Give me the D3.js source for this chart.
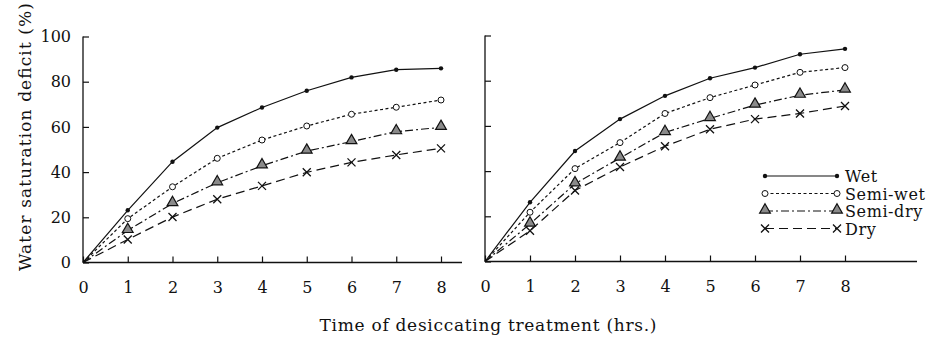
<!DOCTYPE html>
<html>
<head>
<meta charset="utf-8">
<script src="https://cdn.jsdelivr.net/npm/d3@7"></script>
<style>
  body { margin: 0; background: #fff; }
  svg text { font-family: "DejaVu Serif", "Liberation Serif", serif; fill: #111; }
</style>
</head>
<body>
<div id="chart"></div>
<script>
// hours of desiccating treatment
var hours = [0, 1, 2, 3, 4, 5, 6, 7, 8];
var yTicks = [0, 20, 40, 60, 80, 100];
var seriesNames = ["Wet", "Semi-wet", "Semi-dry", "Dry"];

// left panel
var leftWet     = [0, 23.1, 44.6, 59.7, 68.6, 76.0, 81.9, 85.3, 85.9];
var leftSemiWet = [0, 19.4, 33.5, 46.1, 54.2, 60.4, 65.6, 68.7, 71.9];
var leftSemiDry = [0, 14.2, 26.1, 35.3, 42.8, 49.3, 53.5, 57.9, 59.8];
var leftDry     = [0, 10.2, 20.1, 28.0, 33.9, 39.9, 44.3, 47.6, 50.5];

// right panel
var rightWet     = [0, 26.2, 48.9, 63.0, 73.3, 81.1, 85.8, 91.7, 94.1];
var rightSemiWet = [0, 21.8, 41.1, 52.6, 65.5, 72.5, 78.1, 83.7, 85.8];
var rightSemiDry = [0, 16.6, 34.4, 45.8, 57.1, 63.3, 69.2, 73.6, 75.9];
var rightDry     = [0, 13.6, 31.4, 41.8, 51.0, 58.5, 63.0, 65.5, 68.8];

var W = 934, H = 339;
var svg = d3.select("#chart").append("svg")
  .attr("width", W).attr("height", H);

// line style per series
var styles = {
  "Wet":      { dash: null,          marker: "dot" },
  "Semi-wet": { dash: "3,2.5",       marker: "circle" },
  "Semi-dry": { dash: "8,3,2,3",     marker: "triangle" },
  "Dry":      { dash: "9,5",         marker: "cross" }
};

function drawMarker(g, type, x, y) {
  if (type == "dot") {
    g.append("circle").attr("cx", x).attr("cy", y).attr("r", 2.2).attr("fill", "#111");
  } else if (type == "circle") {
    g.append("circle").attr("cx", x).attr("cy", y).attr("r", 3)
      .attr("fill", "#fff").attr("stroke", "#111").attr("stroke-width", 1);
  } else if (type == "triangle") {
    g.append("path")
      .attr("d", d3.symbol().type(d3.symbolTriangle).size(50)())
      .attr("transform", "translate(" + x + "," + (y - 1) + ")")
      .attr("fill", "#8a8a8a").attr("stroke", "#111").attr("stroke-width", 1.2);
  } else {
    g.append("path")
      .attr("d", "M-4,-4L4,4M-4,4L4,-4")
      .attr("transform", "translate(" + x + "," + y + ")")
      .attr("stroke", "#111").attr("stroke-width", 1.3).attr("fill", "none");
  }
}

function drawPanel(cfg) {
  var x = d3.scaleLinear().domain([0, 8]).range([cfg.x0, cfg.x8]);
  var y = d3.scaleLinear().domain([0, 100]).range([cfg.y0, cfg.y100]);
  var g = svg.append("g");

  // axes lines
  g.append("line").attr("x1", x(0)).attr("x2", cfg.xEnd)
    .attr("y1", y(0)).attr("y2", y(0)).attr("stroke", "#111").attr("stroke-width", 1.3);
  g.append("line").attr("x1", x(0)).attr("x2", x(0))
    .attr("y1", y(0)).attr("y2", y(100)).attr("stroke", "#111").attr("stroke-width", 1.3);

  var xAxis = d3.axisBottom(x).tickValues(hours).tickSizeInner(-6).tickSizeOuter(0).tickPadding(19);
  var gx = g.append("g").attr("transform", "translate(0," + y(0) + ")").call(xAxis);
  gx.attr("font-family", null);
  gx.select(".domain").remove();
  gx.selectAll("line").attr("stroke", "#111").attr("stroke-width", 1.2);
  gx.selectAll("text").attr("font-size", 16);

  var yAxis = d3.axisLeft(y).tickValues(yTicks).tickSizeInner(-6).tickSizeOuter(0).tickPadding(12);
  var gy = g.append("g").attr("transform", "translate(" + x(0) + ",0)").call(yAxis);
  gy.attr("font-family", null);
  gy.select(".domain").remove();
  gy.selectAll("line").attr("stroke", "#111").attr("stroke-width", 1.2);
  gy.selectAll("text").attr("font-size", 16);
  if (!cfg.yLabels) gy.selectAll("text").remove();

  var line = d3.line().x(function(d, i) { return x(hours[i]); }).y(function(d) { return y(d); });
  cfg.series.forEach(function(vals, k) {
    var st = styles[seriesNames[k]];
    g.append("path").attr("d", line(vals)).attr("fill", "none")
      .attr("stroke", "#111").attr("stroke-width", 1.2)
      .attr("stroke-dasharray", st.dash);
    vals.forEach(function(v, i) {
      if (i > 0) drawMarker(g, st.marker, x(hours[i]), y(v));
    });
  });
}

drawPanel({ x0: 83, x8: 441, xEnd: 462, y0: 262.5, y100: 36.5, yLabels: true,
  series: [leftWet, leftSemiWet, leftSemiDry, leftDry] });
drawPanel({ x0: 485, x8: 845, xEnd: 917, y0: 261.5, y100: 35.5, yLabels: false,
  series: [rightWet, rightSemiWet, rightSemiDry, rightDry] });

// legend
var legend = svg.append("g");
seriesNames.forEach(function(name, i) {
  var ly = 176 + i * 17.5;
  var st = styles[name];
  legend.append("line").attr("x1", 765).attr("x2", 837).attr("y1", ly).attr("y2", ly)
    .attr("stroke", "#111").attr("stroke-width", 1.2).attr("stroke-dasharray", st.dash);
  drawMarker(legend, st.marker, 765, ly);
  drawMarker(legend, st.marker, 837, ly);
  legend.append("text").attr("x", 845).attr("y", ly + 6)
    .attr("font-size", 16).attr("letter-spacing", 0.6).text(name);
});

// axis titles
svg.append("text")
  .attr("transform", "translate(31,137) rotate(-90)")
  .attr("text-anchor", "middle")
  .attr("font-size", 17)
  .attr("textLength", 268)
  .text("Water saturation deficit (%)");

svg.append("text")
  .attr("x", 488).attr("y", 331)
  .attr("text-anchor", "middle")
  .attr("font-size", 17)
  .attr("textLength", 337)
  .text("Time of desiccating treatment (hrs.)");
</script>
</body>
</html>
